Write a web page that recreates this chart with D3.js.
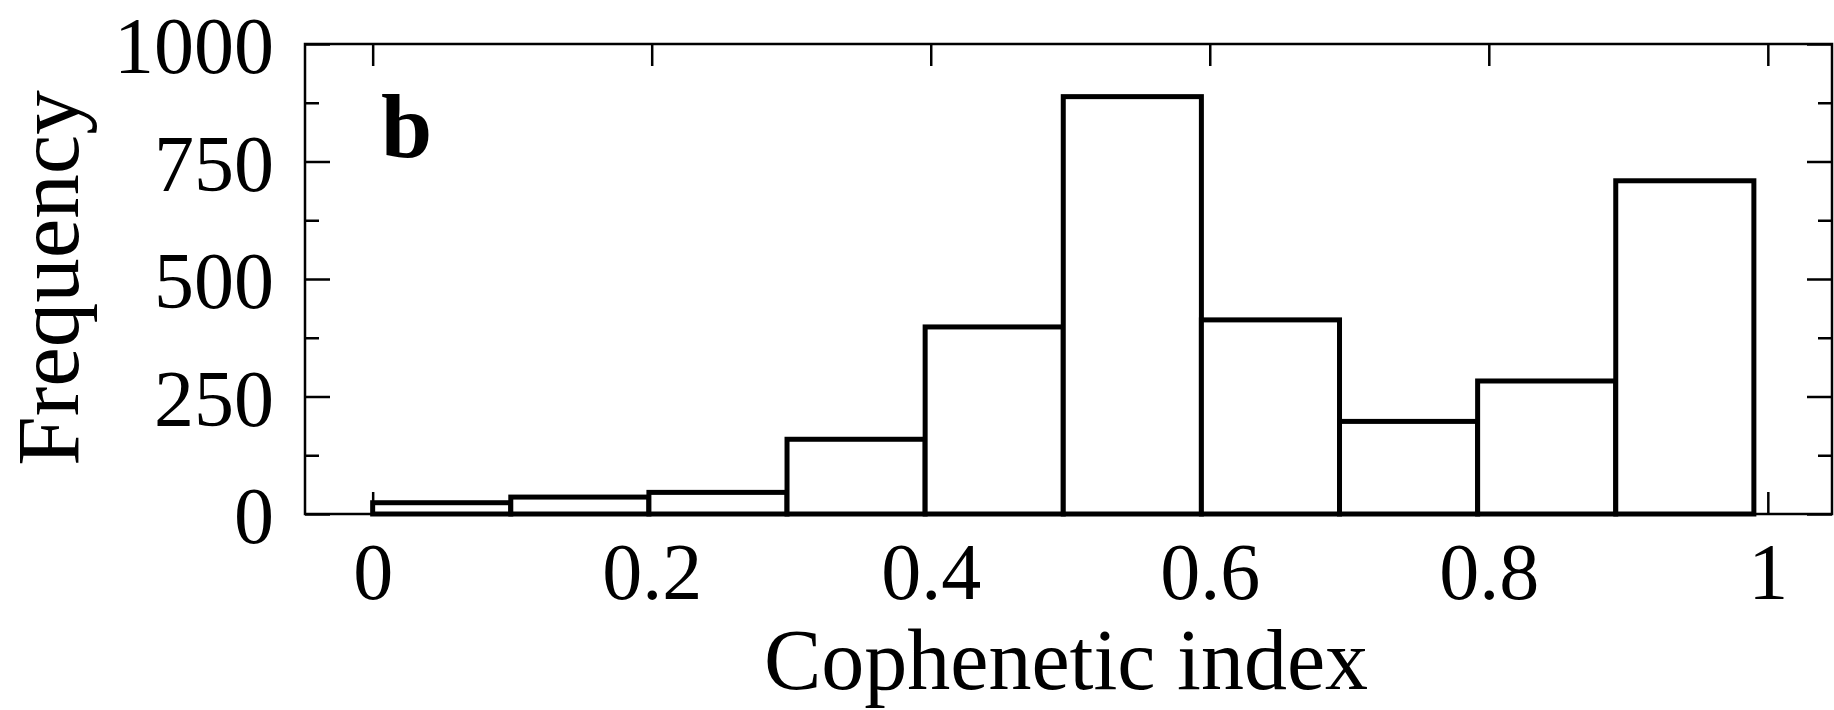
<!DOCTYPE html>
<html>
<head>
<meta charset="utf-8">
<script src="https://cdn.jsdelivr.net/npm/d3@7"></script>
<style>
  html, body { margin: 0; padding: 0; background: #fff; }
  svg { display: block; }
</style>
</head>
<body>
<svg id="chart" width="1834" height="710"></svg>
<script>
// ---- data ----
const binEdges = [0, 0.099, 0.198, 0.297, 0.396, 0.495, 0.594, 0.693, 0.792, 0.891, 0.99];
const counts = [24, 36, 46, 159, 398, 888, 413, 197, 283, 709];
const xTicks = [0, 0.2, 0.4, 0.6, 0.8, 1];
const xTickLabels = ["0", "0.2", "0.4", "0.6", "0.8", "1"];
const yTicks = [0, 250, 500, 750, 1000];
const yMinorTicks = [125, 375, 625, 875];
const xTitle = "Cophenetic index";
const yTitle = "Frequency";
const panelLabel = "b";

// ---- layout ----
const W = 1834, H = 710;
const margin = {top: 44, left: 305, right: 2, bottom: 196};
const iw = W - margin.left - margin.right;
const ih = H - margin.top - margin.bottom;
const FONT = "'Liberation Serif', 'Times New Roman', serif";

const svg = d3.select("#chart");
const g = svg.append("g").attr("transform", `translate(${margin.left},${margin.top})`);

const x = d3.scaleLinear().domain([-0.0485, 1.046]).range([0, iw]);
const y = d3.scaleLinear().domain([0, 1000]).range([ih, 0]);

function styleAxis(sel) {
  sel.select(".domain").remove();
  sel.selectAll(".tick line").attr("stroke", "#000").attr("stroke-width", 2.5);
  sel.selectAll(".tick text").attr("fill", "#000").style("font-family", FONT).style("font-size", "80px");
}

// bottom axis (labels)
g.append("g").attr("transform", `translate(0,${ih})`)
  .call(d3.axisBottom(x).tickValues(xTicks).tickSize(-22).tickPadding(28)
        .tickFormat((d, i) => xTickLabels[i]))
  .call(styleAxis);

// top axis (ticks only)
g.append("g")
  .call(d3.axisTop(x).tickValues(xTicks).tickSize(-22).tickFormat(""))
  .call(styleAxis);

// left axis major
const left = g.append("g")
  .call(d3.axisLeft(y).tickValues(yTicks).tickSize(-25).tickPadding(31).tickFormat(d3.format("d")))
  .call(styleAxis);
left.selectAll(".tick text").attr("dy", "0.36em");

// left axis minor
g.append("g")
  .call(d3.axisLeft(y).tickValues(yMinorTicks).tickSize(-14).tickFormat(""))
  .call(styleAxis);

// right axis major + minor
g.append("g").attr("transform", `translate(${iw},0)`)
  .call(d3.axisRight(y).tickValues(yTicks).tickSize(-25).tickFormat(""))
  .call(styleAxis);
g.append("g").attr("transform", `translate(${iw},0)`)
  .call(d3.axisRight(y).tickValues(yMinorTicks).tickSize(-14).tickFormat(""))
  .call(styleAxis);

// bars
const bins = counts.map((c, i) => ({x0: binEdges[i], x1: binEdges[i + 1], c}));
g.append("g").selectAll("rect").data(bins).join("rect")
  .attr("x", d => x(d.x0))
  .attr("y", d => y(d.c))
  .attr("width", d => x(d.x1) - x(d.x0))
  .attr("height", d => y(0) - y(d.c))
  .attr("fill", "#fff")
  .attr("stroke", "#000")
  .attr("stroke-width", 5)
  .attr("stroke-linejoin", "miter");

// frame
g.append("rect")
  .attr("x", 0).attr("y", 0).attr("width", iw).attr("height", ih)
  .attr("fill", "none").attr("stroke", "#000").attr("stroke-width", 2.5);

// panel label
g.append("text")
  .attr("x", 381 - margin.left).attr("y", 157 - margin.top)
  .style("font-family", FONT).style("font-size", "92px").style("font-weight", "bold")
  .text(panelLabel);

// axis titles
svg.append("text")
  .attr("x", 1066).attr("y", 689)
  .attr("text-anchor", "middle")
  .style("font-family", FONT).style("font-size", "86px")
  .text(xTitle);

svg.append("text")
  .attr("transform", `translate(78,${278}) rotate(-90)`)
  .attr("text-anchor", "middle")
  .style("font-family", FONT).style("font-size", "89px")
  .text(yTitle);
</script>
</body>
</html>
